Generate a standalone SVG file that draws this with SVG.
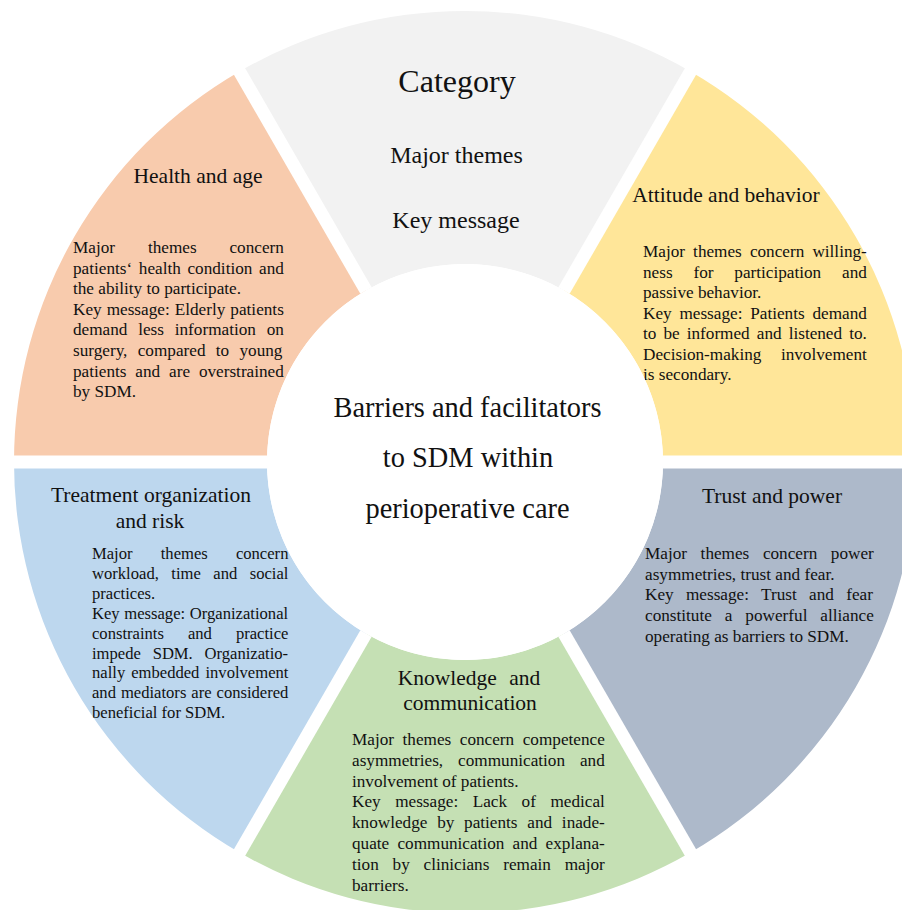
<svg xmlns="http://www.w3.org/2000/svg" width="902" height="910" viewBox="0 0 902 910">
  <style>
    text { font-family: "Liberation Serif", "Times New Roman", serif; fill: #111; }
    .cat { font-size: 32px; text-anchor: middle; }
    .sub { font-size: 24px; text-anchor: middle; }
    .hub { font-size: 28.4px; text-anchor: middle; }
    .ttl { font-size: 21.5px; text-anchor: middle; }
    .body { font-size: 17.2px; }
    .small { font-size: 16.6px; }
    .gap { stroke: #fff; stroke-width: 13; }
  </style>
  <rect width="902" height="910" fill="#fff"/>

  <!-- ring segments: centre (465,462), outer radius 451, inner radius 198 -->
  <g id="category-key">
    <path d="M239.5 71.42 A451 451 0 0 1 690.5 71.42 L564 290.53 A198 198 0 0 0 366 290.53 Z" fill="#F2F2F2"/>
    <text class="cat" x="457" y="92">Category</text>
    <text class="sub" x="456.5" y="163">Major themes</text>
    <text class="sub" x="456" y="228">Key message</text>
  </g>

  <g id="attitude-behavior">
    <path d="M690.5 71.42 A451 451 0 0 1 916 462 L663 462 A198 198 0 0 0 564 290.53 Z" fill="#FFE699"/>
    <text class="ttl" x="726" y="202">Attitude and behavior</text>
    <g class="body">
      <text x="643" y="257" style="word-spacing:3.81px">Major themes concern willing-</text>
      <text x="643" y="277.5" style="word-spacing:16.55px">ness for participation and</text>
      <text x="643" y="298">passive behavior.</text>
      <text x="643" y="318.5" style="word-spacing:3.49px">Key message: Patients demand</text>
      <text x="643" y="339" style="word-spacing:2.76px">to be informed and listened to.</text>
      <text x="643" y="359.5" style="word-spacing:15.23px">Decision-making involvement</text>
      <text x="643" y="380">is secondary.</text>
    </g>
  </g>

  <g id="trust-power">
    <path d="M916 462 A451 451 0 0 1 690.5 852.58 L564 633.47 A198 198 0 0 0 663 462 Z" fill="#ADB9CA"/>
    <text class="ttl" x="772" y="503">Trust and power</text>
    <g class="body">
      <text x="645" y="559" style="word-spacing:9.3px">Major themes concern power</text>
      <text x="645" y="579.7">asymmetries, trust and fear.</text>
      <text x="645" y="600.4" style="word-spacing:8.05px">Key message: Trust and fear</text>
      <text x="645" y="621.1" style="word-spacing:8.66px">constitute a powerful alliance</text>
      <text x="645" y="641.8">operating as barriers to SDM.</text>
    </g>
  </g>

  <g id="knowledge-communication">
    <path d="M690.5 852.58 A451 451 0 0 1 239.5 852.58 L366 633.47 A198 198 0 0 0 564 633.47 Z" fill="#C5E0B4"/>
    <text class="ttl" x="469" y="685" style="word-spacing:7px">Knowledge and</text>
    <text class="ttl" x="470" y="710">communication</text>
    <g class="body">
      <text x="352" y="745" style="word-spacing:4.25px">Major themes concern competence</text>
      <text x="352" y="765.8" style="word-spacing:10.65px">asymmetries, communication and</text>
      <text x="352" y="786.6">involvement of patients.</text>
      <text x="352" y="807.4" style="word-spacing:10.23px">Key message: Lack of medical</text>
      <text x="352" y="828.2" style="word-spacing:5.45px">knowledge by patients and inade-</text>
      <text x="352" y="849" style="word-spacing:3.92px">quate communication and explana-</text>
      <text x="352" y="869.8" style="word-spacing:9.5px">tion by clinicians remain major</text>
      <text x="352" y="890.6">barriers.</text>
    </g>
  </g>

  <g id="treatment-organization">
    <path d="M239.5 852.58 A451 451 0 0 1 14 462 L267 462 A198 198 0 0 0 366 633.47 Z" fill="#BDD7EE"/>
    <text class="ttl" x="151" y="502">Treatment organization</text>
    <text class="ttl" x="150" y="528">and risk</text>
    <g class="small">
      <text x="92" y="559" style="word-spacing:24.03px">Major themes concern</text>
      <text x="92" y="578.9" style="word-spacing:8.33px">workload, time and social</text>
      <text x="92" y="598.8">practices.</text>
      <text x="92" y="618.7" style="word-spacing:0.52px">Key message: Organizational</text>
      <text x="92" y="638.6" style="word-spacing:19.88px">constraints and practice</text>
      <text x="92" y="658.5" style="word-spacing:7.66px">impede SDM. Organizatio-</text>
      <text x="92" y="678.4" style="word-spacing:1.89px">nally embedded involvement</text>
      <text x="92" y="698.3" style="word-spacing:0.81px">and mediators are considered</text>
      <text x="92" y="718.2">beneficial for SDM.</text>
    </g>
  </g>

  <g id="health-age">
    <path d="M14 462 A451 451 0 0 1 239.5 71.42 L366 290.53 A198 198 0 0 0 267 462 Z" fill="#F8CBAD"/>
    <text class="ttl" x="198" y="183">Health and age</text>
    <g class="body">
      <text x="73" y="253" style="word-spacing:28.6px">Major themes concern</text>
      <text x="73" y="273.6" style="word-spacing:2.34px">patients‘ health condition and</text>
      <text x="73" y="294.2">the ability to participate.</text>
      <text x="73" y="314.8" style="word-spacing:0.75px">Key message: Elderly patients</text>
      <text x="73" y="335.4" style="word-spacing:6.48px">demand less information on</text>
      <text x="73" y="356" style="word-spacing:6.01px">surgery, compared to young</text>
      <text x="73" y="376.6" style="word-spacing:4.58px">patients and are overstrained</text>
      <text x="73" y="397.2">by SDM.</text>
    </g>
  </g>

  <!-- white separators between the segments -->
  <g id="separators" class="gap">
    <line x1="663" y1="462" x2="935" y2="462"/>
    <line x1="564" y1="633.47" x2="700" y2="869"/>
    <line x1="366" y1="633.47" x2="230" y2="869"/>
    <line x1="267" y1="462" x2="-5" y2="462"/>
    <line x1="366" y1="290.53" x2="230" y2="55"/>
    <line x1="564" y1="290.53" x2="700" y2="55"/>
  </g>

  <g id="hub">
    <circle cx="465" cy="462" r="198" fill="#fff"/>
    <text class="hub" x="467.5" y="417">Barriers and facilitators</text>
    <text class="hub" x="468" y="467">to SDM within</text>
    <text class="hub" x="467.5" y="518">perioperative care</text>
  </g>
</svg>
